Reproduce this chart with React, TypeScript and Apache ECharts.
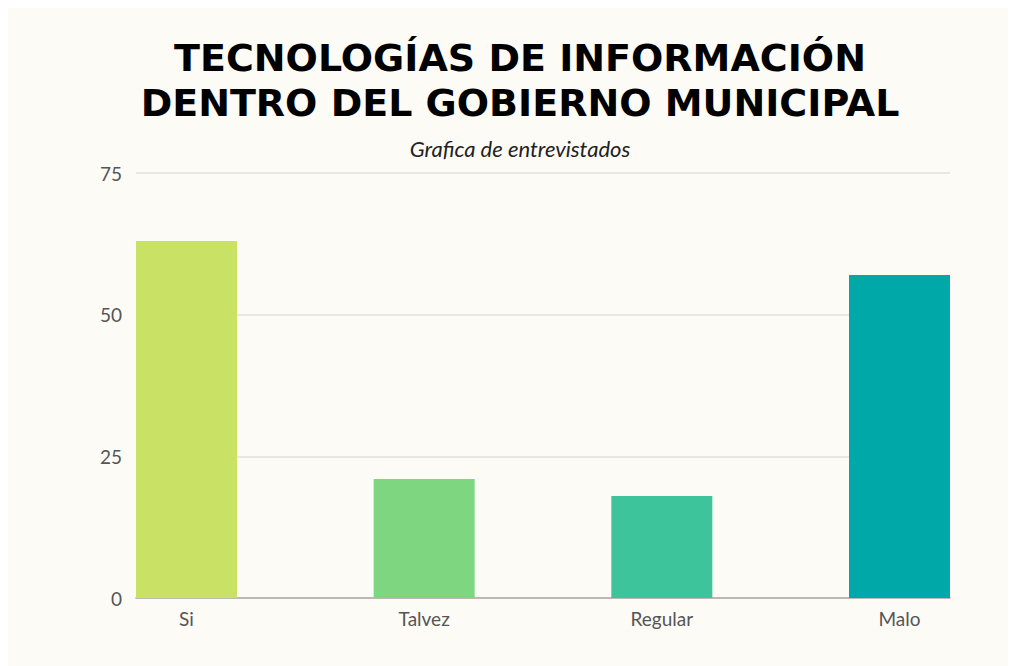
import React, { useEffect, useRef } from "react";
import * as echarts from "echarts";

const categories = ["Si", "Talvez", "Regular", "Malo"];
const values = [63, 21, 18, 57];
const barColors = ["#C9E265", "#7ED680", "#3EC49B", "#00A9A7"];
const yTicks = [0, 25, 50, 75];
const titleLines = ["TECNOLOGÍAS DE INFORMACIÓN", "DENTRO DEL GOBIERNO MUNICIPAL"];
const subtitle = "Grafica de entrevistados";

export default function App() {
  const ref = useRef<HTMLDivElement>(null);
  useEffect(() => {
    if (!ref.current) return;
    const chart = echarts.init(ref.current, null, { renderer: "svg" });
    const titleStyle = {
      fontFamily: "DejaVu Sans",
      fontWeight: "bold",
      fontSize: 38,
      lineHeight: 45,
      color: "#000000",
    };
    chart.setOption({
      animation: false,
      backgroundColor: "#FDFBF6",
      title: [
        {
          text: titleLines[0],
          left: 512,
          top: 27,
          padding: 0,
          textAlign: "center",
          textStyle: titleStyle,
        },
        {
          text: titleLines[1],
          left: 512,
          top: 72,
          padding: 0,
          textAlign: "center",
          textStyle: titleStyle,
        },
        {
          text: subtitle,
          left: 512,
          top: 129,
          padding: 0,
          textAlign: "center",
          textStyle: {
            fontFamily: "Lato",
            fontStyle: "italic",
            fontWeight: "normal",
            fontSize: 22,
            lineHeight: 23,
            color: "#222222",
          },
        },
      ],
      grid: [
        { left: 128, right: 66, top: 165, bottom: 68 },
        { left: 178.5, right: 116.5, top: 165, bottom: 68 },
      ],
      xAxis: [
        {
          gridIndex: 0,
          type: "category",
          data: categories,
          axisLine: { show: true, lineStyle: { color: "#AAAAAA", width: 1.5 } },
          axisTick: { show: false },
          axisLabel: { show: false },
        },
        {
          gridIndex: 1,
          type: "category",
          data: categories,
          boundaryGap: false,
          axisLine: { show: false },
          axisTick: { show: false },
          axisLabel: {
            fontFamily: "Lato",
            fontSize: 19,
            color: "#555555",
            margin: 11,
          },
        },
      ],
      yAxis: [
        {
          gridIndex: 0,
          type: "value",
          min: yTicks[0],
          max: yTicks[yTicks.length - 1],
          interval: 25,
          axisLine: { show: false },
          axisTick: { show: false },
          axisLabel: {
            fontFamily: "Lato",
            fontSize: 19,
            color: "#555555",
            margin: 14,
          },
          splitLine: { lineStyle: { color: "#E3E0DA", width: 1.5 } },
        },
        {
          gridIndex: 1,
          type: "value",
          min: yTicks[0],
          max: yTicks[yTicks.length - 1],
          interval: 25,
          axisLine: { show: false },
          axisTick: { show: false },
          axisLabel: { show: false },
          splitLine: { show: false },
        },
      ],
      series: [
        {
          type: "bar",
          xAxisIndex: 1,
          yAxisIndex: 1,
          barWidth: 101,
          data: values.map((v, i) => ({ value: v, itemStyle: { color: barColors[i] } })),
        },
      ],
    });
    return () => chart.dispose();
  }, []);
  return <div ref={ref} style={{ width: 1008, height: 658 }} />;
}
